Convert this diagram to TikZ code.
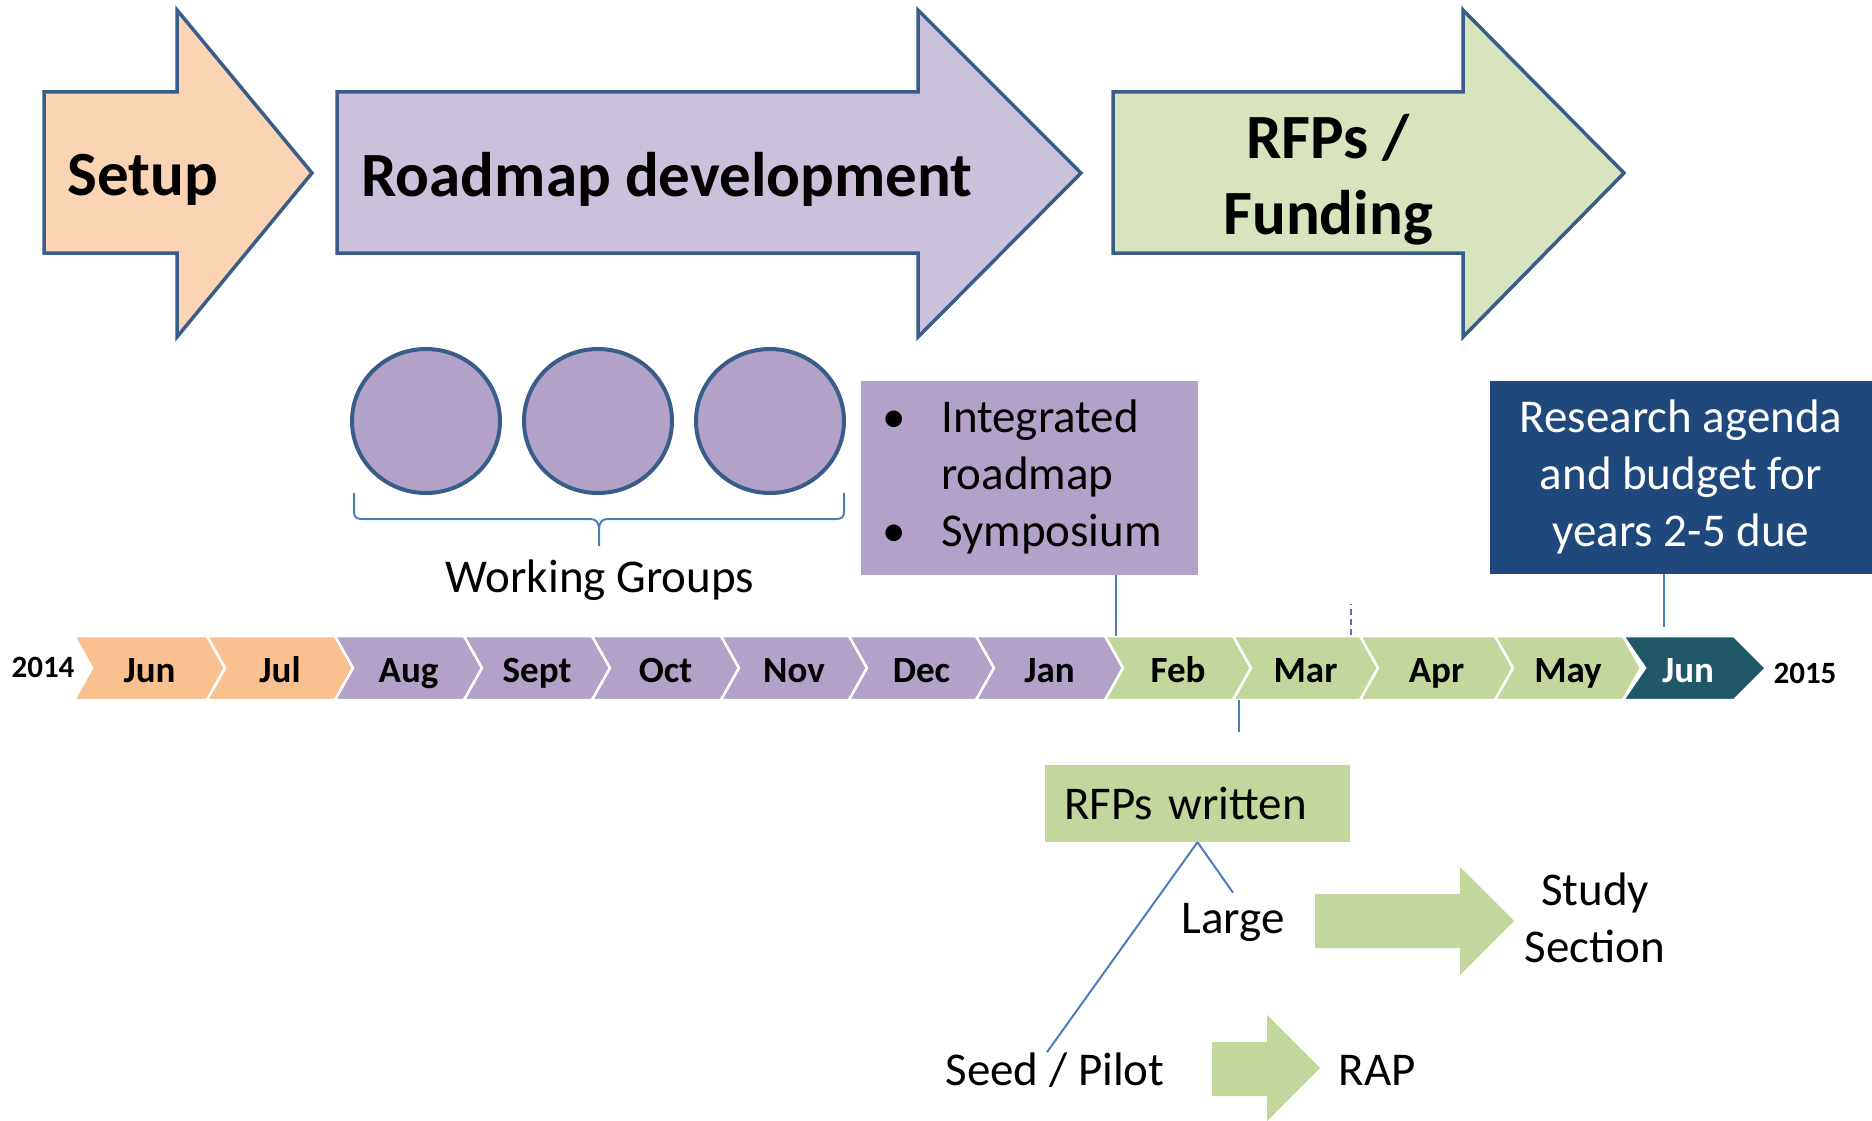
\documentclass[tikz,border=0pt]{standalone}
\usepackage{fontspec}
\setmainfont{Carlito}
\usetikzlibrary{shapes.geometric}

\definecolor{setupfill}{HTML}{FBD4B4}
\definecolor{roadfill}{HTML}{CCC1DA}
\definecolor{fundfill}{HTML}{D7E4BD}
\definecolor{arrowline}{HTML}{385D8A}
\definecolor{monthorange}{HTML}{FAC08F}
\definecolor{monthpurple}{HTML}{B3A2C7}
\definecolor{monthgreen}{HTML}{C3D69B}
\definecolor{monthteal}{HTML}{215868}
\definecolor{agendablue}{HTML}{1F497D}
\definecolor{linkblue}{HTML}{4A7EBB}
\definecolor{tickpurple}{HTML}{7F5FA8}

\begin{document}
\begin{tikzpicture}[
                                x=1pt, y=-1pt,
                                phase/.style={
                                    draw=arrowline, line width=3.5pt,
                                    line join=miter
                                    },
                                phasetext/.style={
                                    font=\fontsize{63}{76}\selectfont\bfseries,
                                    align=center
                                    },
                                month/.style={draw=white, line width=2.5pt},
                                monthtext/.style={
                                    font=\fontsize{37}{44}\selectfont\bfseries,
                                    anchor=base
                                    },
                                yeartext/.style={
                                    font=\fontsize{31}{37}\selectfont\bfseries,
                                    anchor=base
                                    },
                                group/.style={
                                    ellipse, draw=arrowline, line width=4pt,
                                    fill=monthpurple,
                                    minimum width=148pt, minimum height=144pt
                                    },
                                plaintext/.style={
                                    font=\fontsize{47}{57}\selectfont,
                                    align=center, inner sep=0pt
                                    },
                                link/.style={draw=linkblue, line width=2pt},
                                tickdash/.style={
                                    draw=tickpurple, line width=2.5pt,
                                    dash pattern=on 6pt off 4pt
                                    },
                                greenblock/.style={fill=monthgreen}
                                ]
                            \useasboundingbox (0,0) rectangle (1872,1121);

                            % phases
                            \draw[phase, fill=setupfill] (44,92) -- (177,92) -- (177,10) -- (312,173) -- (177,337) -- (177,253) -- (44,253) -- cycle;
                            \draw[phase, fill=roadfill] (337,92) -- (918,92) -- (918,10) -- (1081,173) -- (918,337) -- (918,253) -- (337,253) -- cycle;
                            \draw[phase, fill=fundfill] (1113,92) -- (1463,92) -- (1463,10) -- (1624,173) -- (1463,337) -- (1463,253) -- (1113,253) -- cycle;
                            \node[phasetext] (setup) at (143,180) {Setup};
                            \node[phasetext, anchor=west] (roadmap) at (358,179) {Roadmap development};
                            \node[phasetext] (funding) at (1328,180) {RFPs /\\Funding};

                            % working groups
                            \node[group] (wg1) at (426,421) {};
                            \node[group] (wg2) at (598,421) {};
                            \node[group] (wg3) at (770,421) {};
                            \draw[link] (354,493) -- (354,511) .. controls (354,517) and (356,519) .. (362,519) -- (590,519)
                                .. controls (596,519) and (599,522) .. (599,530)
                                .. controls (599,522) and (602,519) .. (608,519) -- (836,519)
                                .. controls (842,519) and (844,517) .. (844,511) -- (844,493)
                                (599,530) -- (599,546);
                            \node[plaintext, anchor=base] (wglabel) at (600,592) {Working Groups};

                            \node[fill=monthpurple, anchor=north west, inner sep=0pt,
                                  minimum width=337pt, minimum height=194pt,
                                  font=\fontsize{47}{57}\selectfont] (bullets) at (861,381)
                                {\begin{tabular}{@{}p{80pt}@{}p{257pt}@{}}
                                 \hspace*{21pt}\textbullet & Integrated\\
                                  & roadmap\\
                                 \hspace*{21pt}\textbullet & Symposium
                                 \end{tabular}};

                            \node[fill=agendablue, text=white, minimum width=382pt, minimum height=193pt,
                                  font=\fontsize{47}{57}\selectfont, align=center] (agenda) at (1681,477)
                                {Research agenda\\and budget for\\years 2-5 due};

                            % timeline
                            \foreach \xa/\xb/\col/\mon/\nm in {
                                74/207/monthorange/Jun/jun, 207/335/monthorange/Jul/jul,
                                335/464/monthpurple/Aug/aug, 464/592/monthpurple/Sept/sept,
                                592/721/monthpurple/Oct/oct, 721/849/monthpurple/Nov/nov,
                                849/976/monthpurple/Dec/dec, 976/1105/monthpurple/Jan/jan,
                                1105/1233/monthgreen/Feb/feb, 1233/1360/monthgreen/Mar/mar,
                                1360/1495/monthgreen/Apr/apr, 1495/1623/monthgreen/May/may}
                            {
                                \path[month, fill=\col] (\xa,636) -- (\xb,636) -- (\xb+18,668) -- (\xb,700) -- (\xa,700) -- (\xa+18,668) -- cycle;
                                \node[monthtext] (\nm) at ({(\xa+\xb)/2+9},682) {\mon};
                            }
                            \path[month, fill=monthteal] (1623,636) -- (1734,636) -- (1766,668) -- (1734,700) -- (1623,700) -- (1645,668) -- cycle;
                            \node[monthtext, text=white] (junend) at (1688,682) {Jun};
                            \node[yeartext] (start) at (43,677) {2014};
                            \node[yeartext] (end) at (1805,683) {2015};

                            \coordinate (febtick) at (1116,636);
                            \coordinate (martick) at (1239,700);
                            \coordinate (aprtick) at (1351,635);
                            \coordinate (juntick) at (1664,627);
                            \draw[link] (bullets.south -| febtick) -- (febtick);
                            \draw[link] (agenda.south -| juntick) -- (juntick);
                            \draw[link] (martick) -- ++(0,32);
                            \draw[tickdash] (aprtick) -- ++(0,-31);

                            % funding
                            \node[fill=monthgreen, text width=267pt, inner xsep=19pt, minimum height=77pt,
                                  font=\fontsize{47}{57}\selectfont, align=left] (rfps) at (1197.5,803.5) {RFPs written};
                            \node[plaintext, anchor=base] (large) at (1233,933) {Large};
                            \node[plaintext] (study) at (1595,918) {Study\\Section};
                            \node[plaintext, anchor=base] (seed) at (1055,1085) {Seed / Pilot};
                            \node[plaintext, anchor=base] (rap) at (1377,1085) {RAP};
                            \draw[link] (rfps.south) -- ([yshift=10pt]large.north);
                            \draw[link] (rfps.south) -- ([xshift=-8pt]seed.north);
                            \path[greenblock] (1315,894) -- (1460,894) -- (1460,867) -- (1514,921) -- (1460,975) -- (1460,948) -- (1315,948) -- cycle;
                            \path[greenblock] (1212,1042) -- (1267,1042) -- (1267,1015) -- (1320,1068) -- (1267,1121) -- (1267,1096) -- (1212,1096) -- cycle;
                        \end{tikzpicture}
\end{document}
